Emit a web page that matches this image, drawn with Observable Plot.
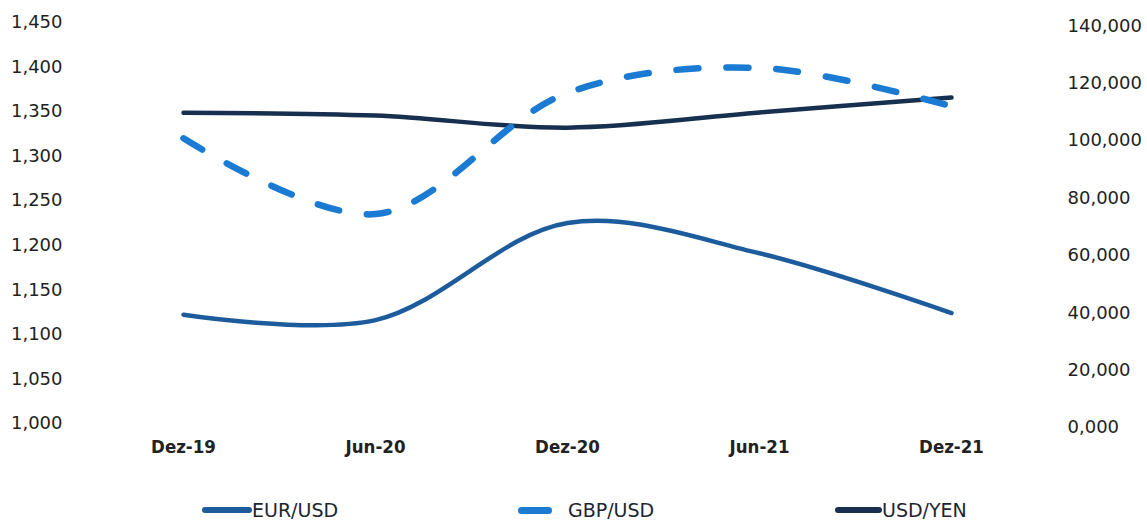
<!DOCTYPE html>
<html><head><meta charset="utf-8">
<script src="https://cdn.jsdelivr.net/npm/d3@7"></script>
<script src="https://cdn.jsdelivr.net/npm/@observablehq/plot@0.6"></script>
<style>
body{margin:0;background:#fff;}
#wrap{position:relative;width:1147px;height:520px;overflow:hidden;}
.item{position:absolute;top:498px;height:24px;display:flex;align-items:center;font-family:"DejaVu Sans";font-size:19px;color:#1e2530;white-space:nowrap;}
.sw{display:inline-block;border-radius:4px;}
</style></head><body>
<div id="wrap"><div id="chart"></div></div>
<script>
const periods = ["Dez-19","Jun-20","Dez-20","Jun-21","Dez-21"];
const eurUsd = [1.122, 1.116, 1.225, 1.191, 1.124];
const gbpUsd = [1.320, 1.235, 1.371, 1.399, 1.356];
const usdYen = [109.7, 108.7, 104.5, 109.8, 115.0];
const leftTicks = [1.000, 1.050, 1.100, 1.150, 1.200, 1.250, 1.300, 1.350, 1.400, 1.450];
const rightTicks = [0, 20, 40, 60, 80, 100, 120, 140];
const seriesNames = ["EUR/USD", "GBP/USD", "USD/YEN"];
const colors = ["#1c5c9c", "#1b7ad2", "#17304f"];

// right axis (USD/YEN) mapped onto left axis units
const yenToLeft = d3.scaleLinear([0, 140], [0.9955, 1.4463]);
const fmt = v => v.toFixed(3).replace(".", ",");

const rows = (vals, f = v => v) => periods.map((p, i) => ({period: p, value: f(vals[i])}));

const chart = Plot.plot({
  width: 1147,
  height: 470,
  marginLeft: 70,
  marginRight: 87,
  marginTop: 22,
  marginBottom: 47,
  style: {background: "#fff"},
  x: {type: "point", domain: periods, range: [181, 952], padding: 0, label: null},
  y: {domain: [1.0, 1.45], label: null},
  marks: [
    Plot.axisX({tickSize: 0, tickPadding: 16, fontFamily: "DejaVu Sans Condensed", fontWeight: "bold", fontSize: 18.5, fill: "#222", label: null}),
    Plot.axisY(leftTicks, {anchor: "left", tickSize: 0, tickPadding: 8, tickFormat: fmt, fontFamily: "DejaVu Sans", fontSize: 18, fill: "#222", label: null}),
    Plot.axisY(rightTicks.map(t => yenToLeft(t)), {anchor: "right", tickSize: 0, tickPadding: 7, tickFormat: d => fmt(yenToLeft.invert(d)), fontFamily: "DejaVu Sans", fontSize: 18, fill: "#222", label: null}),
    Plot.line(rows(usdYen, yenToLeft), {x: "period", y: "value", stroke: colors[2], strokeWidth: 4.5, curve: "catmull-rom", strokeLinecap: "round"}),
    Plot.line(rows(eurUsd), {x: "period", y: "value", stroke: colors[0], strokeWidth: 4.5, curve: "catmull-rom", strokeLinecap: "round"}),
    Plot.line(rows(gbpUsd), {x: "period", y: "value", stroke: colors[1], strokeWidth: 6.5, curve: "catmull-rom", strokeLinecap: "round", strokeDasharray: "22 28"})
  ]
});
document.getElementById("chart").appendChild(chart);

// legend
const legendPos = [
  {left: 202, sw: 50, h: 6, gap: 0},
  {left: 518, sw: 34, h: 7, gap: 16},
  {left: 835, sw: 47, h: 6, gap: 0}
];
const wrap = document.getElementById("wrap");
seriesNames.forEach((name, i) => {
  const d = document.createElement("div");
  d.className = "item";
  d.style.left = legendPos[i].left + "px";
  const s = document.createElement("span");
  s.className = "sw";
  s.style.width = legendPos[i].sw + "px";
  s.style.height = legendPos[i].h + "px";
  s.style.background = colors[i];
  s.style.marginRight = legendPos[i].gap + "px";
  d.appendChild(s);
  const t = document.createElement("span");
  t.textContent = name;
  d.appendChild(t);
  wrap.appendChild(d);
});
</script>
</body></html>
